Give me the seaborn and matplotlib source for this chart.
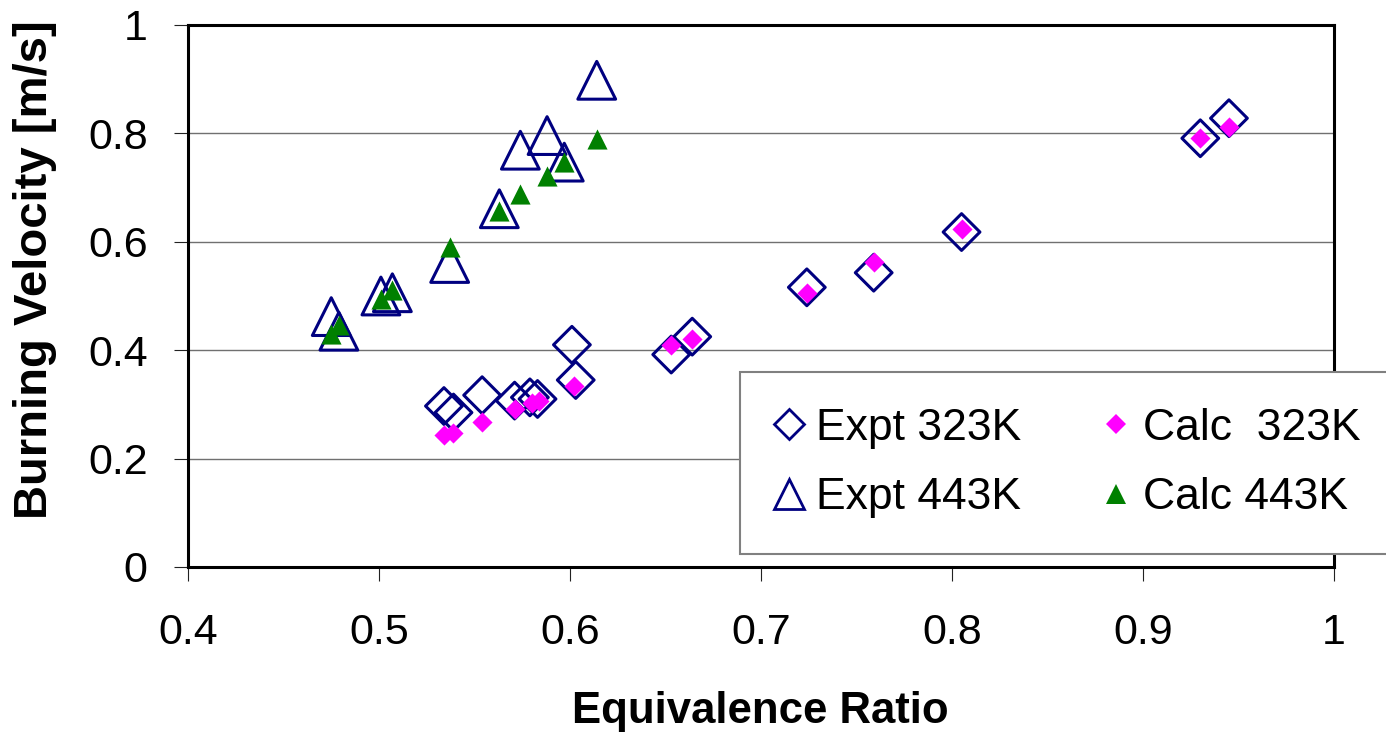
"""Burning velocity vs equivalence ratio: experiment vs calculation at 323K and 443K."""
import numpy as np
import pandas as pd
import matplotlib
matplotlib.use("Agg")
import matplotlib.pyplot as plt
import seaborn as sns
from matplotlib.lines import Line2D
from matplotlib.ticker import FuncFormatter, MultipleLocator

sns.set_style("white")
plt.rcParams["font.family"] = ["Liberation Sans", "DejaVu Sans"]
plt.rcParams["text.color"] = "black"
plt.rcParams["axes.labelcolor"] = "black"

NAVY = "#000080"
MAGENTA = "#FF00FF"
GREEN = "#008000"

# ---------------------------------------------------------------------------
# Data
# ---------------------------------------------------------------------------
expt323_phi = [0.534, 0.539, 0.554, 0.571, 0.579, 0.583, 0.601, 0.603, 0.653, 0.664, 0.724, 0.759, 0.805, 0.930, 0.945]
expt323_su = [0.297, 0.285, 0.317, 0.307, 0.313, 0.310, 0.410, 0.345, 0.392, 0.425, 0.516, 0.543, 0.618, 0.791, 0.828]

calc323_phi = [0.534, 0.539, 0.554, 0.571, 0.580, 0.584, 0.602, 0.653, 0.664, 0.724, 0.759, 0.805, 0.930, 0.945]
calc323_su = [0.244, 0.248, 0.268, 0.291, 0.302, 0.307, 0.334, 0.410, 0.420, 0.505, 0.562, 0.624, 0.791, 0.811]

expt443_phi = [0.475, 0.479, 0.501, 0.507, 0.537, 0.563, 0.574, 0.588, 0.597, 0.614]
expt443_su = [0.462, 0.435, 0.500, 0.506, 0.560, 0.661, 0.769, 0.796, 0.747, 0.898]

calc443_phi = [0.475, 0.479, 0.501, 0.507, 0.537, 0.563, 0.574, 0.588, 0.597, 0.614]
calc443_su = [0.430, 0.447, 0.495, 0.511, 0.591, 0.656, 0.688, 0.721, 0.747, 0.790]

LABELS = ["Expt 323K", "Expt 443K", "Calc  323K", "Calc 443K"]


def plot_burning_velocity():
    fig = plt.figure(figsize=(13.86, 7.35), dpi=100)
    ax = fig.add_axes([188 / 1386, 1 - 567 / 735, 1146 / 1386, 542 / 735])

    e323 = pd.DataFrame({"phi": expt323_phi, "su": expt323_su})
    e443 = pd.DataFrame({"phi": expt443_phi, "su": expt443_su})
    c323 = pd.DataFrame({"phi": calc323_phi, "su": calc323_su})
    c443 = pd.DataFrame({"phi": calc443_phi, "su": calc443_su})

    # open experimental markers first, calculated ones on top
    sns.scatterplot(data=e323, x="phi", y="su", marker="D", s=350, color=NAVY,
                    facecolor="none", edgecolor=NAVY, linewidth=2.2, ax=ax, legend=False, zorder=3)
    sns.scatterplot(data=e443, x="phi", y="su", marker="^", s=740, color=NAVY,
                    facecolor="none", edgecolor=NAVY, linewidth=2.2, ax=ax, legend=False, zorder=3)
    sns.scatterplot(data=c323, x="phi", y="su", marker="D", s=105, color=MAGENTA,
                    linewidth=0, ax=ax, legend=False, zorder=4)
    sns.scatterplot(data=c443, x="phi", y="su", marker="^", s=210, color=GREEN,
                    linewidth=0, ax=ax, legend=False, zorder=4)

    ax.set_xlim(0.4, 1.0)
    ax.set_ylim(0, 1.0)
    ax.xaxis.set_major_locator(MultipleLocator(0.1))
    ax.yaxis.set_major_locator(MultipleLocator(0.2))
    fmt = FuncFormatter(lambda v, _: f"{v:g}")
    ax.xaxis.set_major_formatter(fmt)
    ax.yaxis.set_major_formatter(fmt)

    ax.grid(axis="y", color="#707070", lw=1.0)
    ax.grid(axis="x", visible=False)
    ax.set_axisbelow(True)
    for sp in ax.spines.values():
        sp.set_color("black")
        sp.set_linewidth(2.2)
        sp.set_visible(True)

    ax.tick_params(axis="both", direction="out", length=10, width=0.8, color="#222222",
                   labelsize=31, labelcolor="black")
    ax.tick_params(axis="x", pad=23, bottom=True)
    ax.tick_params(axis="y", pad=19, left=True)

    ax.set_xlabel("")
    ax.set_ylabel("")
    fig.text(760 / 1386, 1 - 712 / 735, "Equivalence Ratio", ha="center", va="center",
             fontsize=31.5, fontweight="bold", color="black")
    fig.text(35 / 1386, 1 - 270 / 735, "Burning Velocity [m/s]", ha="center", va="center",
             rotation=90, fontsize=34, fontweight="bold", color="black")

    handles = [
        Line2D([], [], ls="none", marker="D", ms=15, mfc="none", mec=NAVY, mew=2.0),
        Line2D([], [], ls="none", marker="^", ms=22, mfc="none", mec=NAVY, mew=2.0),
        Line2D([], [], ls="none", marker="D", ms=10.5, mfc=MAGENTA, mec=MAGENTA, mew=0),
        Line2D([], [], ls="none", marker="^", ms=15, mfc=GREEN, mec=GREEN, mew=0),
    ]
    leg = ax.legend(handles, LABELS, ncol=2, loc="upper left",
                    bbox_to_anchor=(740 / 1386, 1 - 372 / 735), bbox_transform=fig.transFigure,
                    fontsize=32, frameon=True, fancybox=False, framealpha=1,
                    borderpad=0.8, handlelength=0.6, handletextpad=0.3,
                    columnspacing=1.85, labelspacing=0.65, borderaxespad=0)
    leg.get_frame().set_edgecolor("#808080")
    leg.get_frame().set_linewidth(1.5)
    for t in leg.get_texts():
        t.set_color("black")

    fig.savefig("out.png", dpi=100)
    plt.close(fig)


if __name__ == "__main__":
    plot_burning_velocity()
